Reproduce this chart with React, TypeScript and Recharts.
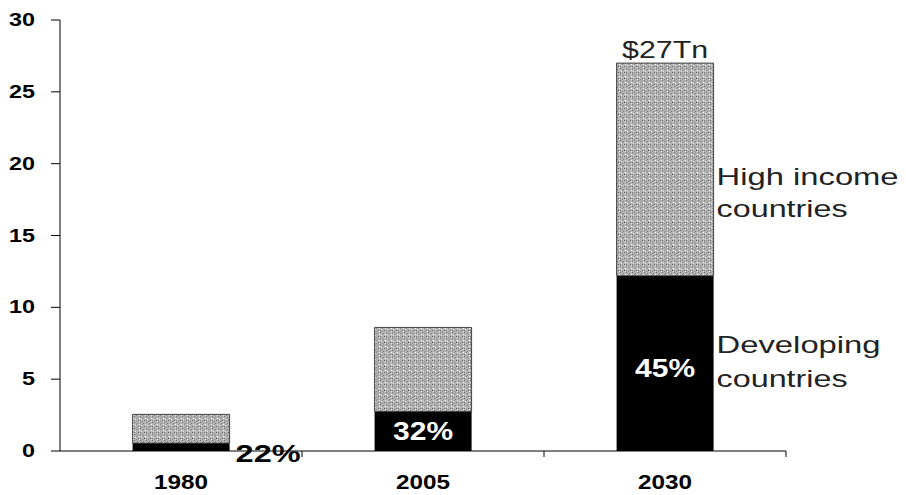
import { BarChart, Bar, XAxis, YAxis, LabelList } from 'recharts'

// GDP by country group, $ trillions
const years = ['1980', '2005', '2030']
const developing = [0.55, 2.75, 12.2]
const highIncome = [2.0, 5.85, 14.8]
const developingShare = ['22%', '32%', '45%']
const totalLabels = ['', '', '$27Tn']
const yTicks = [0, 5, 10, 15, 20, 25, 30]

const data = years.map((year, i) => ({
  year,
  developing: developing[i],
  highIncome: highIncome[i],
}))

const FONT = '"Liberation Sans", Arial, sans-serif'

// the scanned original uses wide lettering, so stretch glyphs to a width per char
const stretch = (text: string, perChar: number) => text.length * perChar

function YTick({ x, y, payload }: any) {
  const label = String(payload.value)
  return (
    <text
      x={x}
      y={y + 6}
      textAnchor="end"
      fontFamily={FONT}
      fontWeight="bold"
      fontSize={18}
      fill="#000"
      textLength={stretch(label, 13)}
      lengthAdjust="spacingAndGlyphs"
    >
      {label}
    </text>
  )
}

function XTick({ x, y, payload }: any) {
  const half = payload.offset ?? 121
  return (
    <g>
      <line x1={x + half} x2={x + half} y1={y - 6} y2={y} stroke="#000" strokeWidth={1} />
      <text
        x={x}
        y={y + 32}
        textAnchor="middle"
        fontFamily={FONT}
        fontWeight="bold"
        fontSize={21}
        fill="#000"
        textLength={54}
        lengthAdjust="spacingAndGlyphs"
      >
        {payload.value}
      </text>
    </g>
  )
}

function ShareLabel(props: any) {
  const { x, y, width, height, index } = props
  const text = developingShare[index]
  if (index === 0) {
    // segment too thin, label sits beside the bar
    return (
      <text
        x={x + width + 6}
        y={y + height + 11}
        fontFamily={FONT}
        fontWeight="bold"
        fontSize={23}
        fill="#000"
        textLength={65}
        lengthAdjust="spacingAndGlyphs"
      >
        {text}
      </text>
    )
  }
  return (
    <text
      x={x + width / 2}
      y={y + height / 2 + (index === 2 ? 14 : 9)}
      textAnchor="middle"
      fontFamily={FONT}
      fontWeight="bold"
      fontSize={25}
      fill="#fff"
      textLength={60}
      lengthAdjust="spacingAndGlyphs"
    >
      {text}
    </text>
  )
}

function TopLabel(props: any) {
  const { x, y, width, height, index } = props
  const total = totalLabels[index]
  if (!total) return null
  const tx = x + width + 3
  const ty = y + height * 0.575
  return (
    <g fontFamily={FONT} fontSize={24} fill="#222">
      <text x={x + width / 2} y={y - 5} textAnchor="middle" textLength={86} lengthAdjust="spacingAndGlyphs">
        {total}
      </text>
      <text x={tx} y={ty} textLength={182} lengthAdjust="spacingAndGlyphs">
        High income
      </text>
      <text x={tx} y={ty + 32} textLength={131} lengthAdjust="spacingAndGlyphs">
        countries
      </text>
    </g>
  )
}

function DevSeriesLabel(props: any) {
  const { x, y, width, height, index } = props
  if (index !== years.length - 1) return null
  const tx = x + width + 3
  const ty = y + height * 0.44
  return (
    <g fontFamily={FONT} fontSize={24} fill="#222">
      <text x={tx} y={ty} textLength={164} lengthAdjust="spacingAndGlyphs">
        Developing
      </text>
      <text x={tx} y={ty + 34} textLength={131} lengthAdjust="spacingAndGlyphs">
        countries
      </text>
    </g>
  )
}

export default function App() {
  return (
    <BarChart
      width={890}
      height={486}
      data={data}
      margin={{ top: 12, right: 112, bottom: 0, left: 0 }}
      barCategoryGap="30%"
    >
      <defs>
        <pattern id="speckle" width="6" height="6" patternUnits="userSpaceOnUse">
          <rect width="6" height="6" fill="#b4b4b4" />
          <rect x="0" y="0" width="1" height="1" fill="#666666" />
          <rect x="3" y="1" width="1" height="1" fill="#787878" />
          <rect x="1" y="3" width="1" height="1" fill="#eeeeee" />
          <rect x="4" y="4" width="1" height="1" fill="#5a5a5a" />
          <rect x="2" y="5" width="1" height="1" fill="#868686" />
          <rect x="5" y="2" width="1" height="1" fill="#ffffff" />
          <rect x="2" y="2" width="1" height="1" fill="#949494" />
          <rect x="5" y="5" width="1" height="1" fill="#e0e0e0" />
          <rect x="0" y="4" width="1" height="1" fill="#767676" />
        </pattern>
      </defs>
      <XAxis
        dataKey="year"
        height={43}
        tickLine={false}
        tickSize={6}
        tickMargin={0}
        axisLine={{ stroke: '#000', strokeWidth: 1 }}
        tick={<XTick />}
        interval={0}
      />
      <YAxis
        width={52}
        domain={[0, 30]}
        ticks={yTicks}
        tickSize={9}
        tickMargin={16}
        axisLine={{ stroke: '#000', strokeWidth: 1 }}
        tickLine={{ stroke: '#000', strokeWidth: 1 }}
        tick={<YTick />}
        allowDataOverflow
      />
      <Bar dataKey="developing" stackId="gdp" fill="#000" isAnimationActive={false}>
        <LabelList dataKey="developing" content={<ShareLabel />} />
        <LabelList dataKey="developing" content={<DevSeriesLabel />} />
      </Bar>
      <Bar
        dataKey="highIncome"
        stackId="gdp"
        fill="url(#speckle)"
        stroke="#444"
        strokeWidth={1}
        isAnimationActive={false}
      >
        <LabelList dataKey="highIncome" content={<TopLabel />} />
      </Bar>
    </BarChart>
  )
}
